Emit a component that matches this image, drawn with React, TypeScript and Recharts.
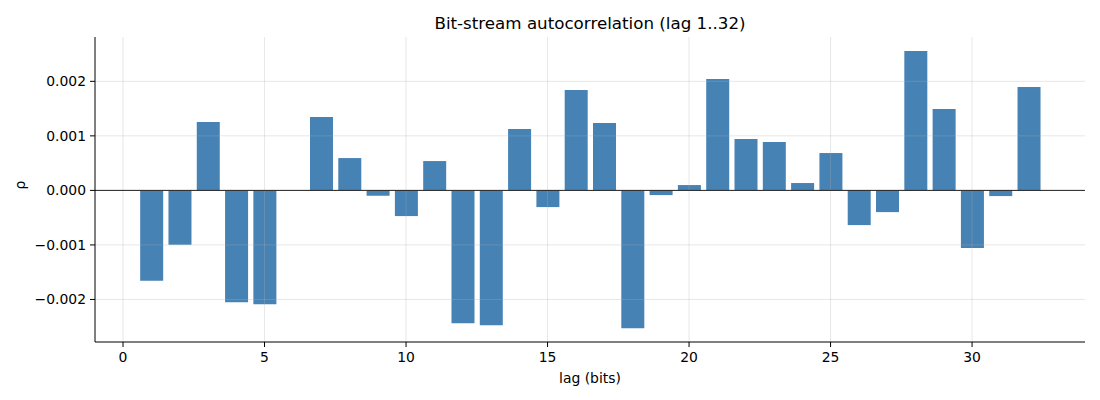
import {
  BarChart,
  Bar,
  XAxis,
  YAxis,
  ReferenceLine,
} from "recharts";

// lag index 1..32
const lags = [
  1, 2, 3, 4, 5, 6, 7, 8, 9, 10, 11, 12, 13, 14, 15, 16,
  17, 18, 19, 20, 21, 22, 23, 24, 25, 26, 27, 28, 29, 30, 31, 32,
];
// autocorrelation coefficient per lag
const rho = [
  -0.001657, -0.000997, 0.001254, -0.002049, -0.002086, 0.0, 0.001346, 0.000593,
  -0.000098, -0.000471, 0.000538, -0.002434, -0.002471, 0.001125, -0.000306, 0.001841,
  0.001235, -0.002526, -0.000086, 0.000098, 0.002043, 0.000942, 0.000887, 0.000135,
  0.000685, -0.000636, -0.000398, 0.002557, 0.001492, -0.001058, -0.000104, 0.001896,
];
const xTicks = [0, 5, 10, 15, 20, 25, 30];
const yTicks = [-0.002, -0.001, 0, 0.001, 0.002];

const data = lags.map((lag, i) => ({ lag, rho: rho[i] }));

const font = "DejaVu Sans, sans-serif";
const fmtY = (v: number) => v.toFixed(3).replace("-", "\u2212");

const App = () => {
  return (
    <div style={{ position: "absolute", left: 0, top: 0, width: 1100, height: 400, fontFamily: font }}>
      <div
        style={{
          position: "absolute",
          left: 95,
          width: 990,
          top: 13,
          textAlign: "center",
          fontSize: 16.7,
          color: "#000",
        }}
      >
        Bit-stream autocorrelation (lag 1..32)
      </div>
      <BarChart
        width={1100}
        height={400}
        data={data}
        margin={{ top: 37, right: 15, bottom: 0, left: 0 }}
        barSize={23}
      >
        {/* grid lines only at the tick values, translucent like mpl's */}
        {yTicks.map((t) => (
          <ReferenceLine key={"gy" + t} y={t} stroke="#b0b0b0" strokeOpacity={0.3} strokeWidth={1} />
        ))}
        {xTicks.map((t) => (
          <ReferenceLine key={"gx" + t} x={t} stroke="#b0b0b0" strokeOpacity={0.3} strokeWidth={1} />
        ))}
        <XAxis
          dataKey="lag"
          type="number"
          domain={[-0.99, 33.99]}
          ticks={xTicks}
          allowDataOverflow
          height={58}
          tickSize={5}
          tickMargin={5}
          tick={{ fill: "#000", fontSize: 13.9, fontFamily: font }}
          stroke="#000"
          axisLine={{ stroke: "#000", strokeWidth: 1 }}
          label={{
            value: "lag (bits)",
            position: "insideBottom",
            offset: 17,
            fill: "#000",
            fontSize: 13.9,
            fontFamily: font,
          }}
        />
        <YAxis
          type="number"
          domain={[-0.00278, 0.002813]}
          ticks={yTicks}
          allowDataOverflow
          width={95}
          tickSize={5}
          tickMargin={4}
          tickFormatter={fmtY}
          tick={{ fill: "#000", fontSize: 13.9, fontFamily: font }}
          stroke="#000"
          axisLine={{ stroke: "#000", strokeWidth: 1 }}
          label={{
            value: "ρ",
            angle: -90,
            position: "insideLeft",
            offset: 20,
            fill: "#000",
            fontSize: 13.9,
            fontFamily: font,
          }}
        />
        <Bar dataKey="rho" fill="#4682B4" isAnimationActive={false} />
        <ReferenceLine y={0} stroke="#222" strokeWidth={1} />
      </BarChart>
    </div>
  );
};

export default App;
